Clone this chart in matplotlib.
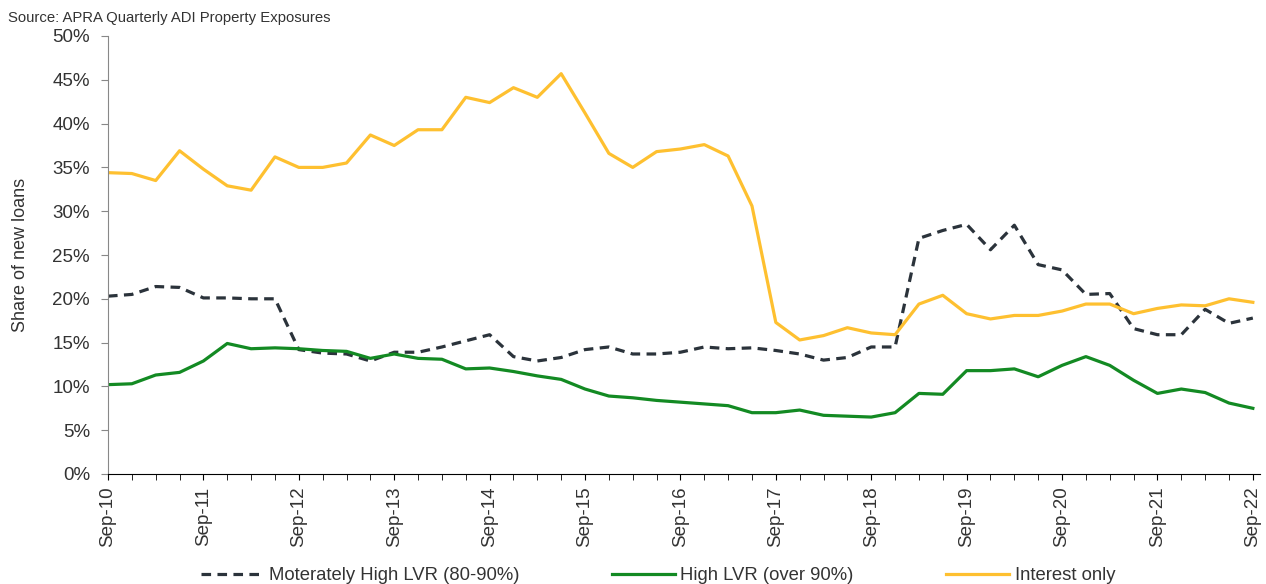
import matplotlib
matplotlib.use("Agg")
import matplotlib.pyplot as plt
from matplotlib.ticker import PercentFormatter

plt.rcParams['font.family'] = ['Liberation Sans', 'DejaVu Sans']

# quarterly, Sep-10 .. Sep-22
quarters = list(range(49))
year_labels = ['Sep-10', 'Sep-11', 'Sep-12', 'Sep-13', 'Sep-14', 'Sep-15', 'Sep-16',
               'Sep-17', 'Sep-18', 'Sep-19', 'Sep-20', 'Sep-21', 'Sep-22']

moderate_lvr = [20.3, 20.5, 21.4, 21.3, 20.1, 20.1, 20.0, 20.0, 14.2, 13.8,
                13.7, 12.9, 13.9, 13.9, 14.5, 15.2, 15.9, 13.4, 12.9, 13.3,
                14.2, 14.5, 13.7, 13.7, 13.9, 14.5, 14.3, 14.4, 14.1, 13.7,
                13.0, 13.3, 14.5, 14.5, 26.9, 27.8, 28.5, 25.6, 28.4, 23.9,
                23.3, 20.5, 20.6, 16.6, 15.9, 15.9, 18.8, 17.2, 17.8]
high_lvr = [10.2, 10.3, 11.3, 11.6, 12.9, 14.9, 14.3, 14.4, 14.3, 14.1,
            14.0, 13.2, 13.7, 13.2, 13.1, 12.0, 12.1, 11.7, 11.2, 10.8,
            9.7, 8.9, 8.7, 8.4, 8.2, 8.0, 7.8, 7.0, 7.0, 7.3,
            6.7, 6.6, 6.5, 7.0, 9.2, 9.1, 11.8, 11.8, 12.0, 11.1,
            12.4, 13.4, 12.4, 10.7, 9.2, 9.7, 9.3, 8.1, 7.5]
interest_only = [34.4, 34.3, 33.5, 36.9, 34.8, 32.9, 32.4, 36.2, 35.0, 35.0,
                 35.5, 38.7, 37.5, 39.3, 39.3, 43.0, 42.4, 44.1, 43.0, 45.7,
                 41.2, 36.6, 35.0, 36.8, 37.1, 37.6, 36.3, 30.6, 17.3, 15.3,
                 15.8, 16.7, 16.1, 15.9, 19.4, 20.4, 18.3, 17.7, 18.1, 18.1,
                 18.6, 19.4, 19.4, 18.3, 18.9, 19.3, 19.2, 20.0, 19.6]

W, H = 1266, 584
fig = plt.figure(figsize=(W / 100, H / 100), dpi=100)
ax = fig.add_axes([108 / W, 1 - 474 / H, (1260 - 108) / W, (474 - 36) / H])

ax.plot(quarters, moderate_lvr, color='#2b333b', lw=2.3, ls=(0, (3, 2)),
        label='Moterately High LVR (80-90%)')
ax.plot(quarters, high_lvr, color='#138a23', lw=2.3, label='High LVR (over 90%)')
ax.plot(quarters, interest_only, color='#fec030', lw=2.3, label='Interest only')

ax.set_xlim(0, 48.3)
ax.set_ylim(0, 50)
ax.set_yticks(range(0, 51, 5))
ax.yaxis.set_major_formatter(PercentFormatter(decimals=0))
ax.set_xticks(range(0, 49, 4))
ax.set_xticklabels(year_labels, rotation=90)
ax.set_xticks(quarters, minor=True)

for s in ['top', 'right']:
    ax.spines[s].set_visible(False)
ax.spines['left'].set_color('#888888')
ax.spines['bottom'].set_color('#000000')
ax.tick_params(axis='y', length=5, color='#888888', labelsize=13.5,
               labelcolor='#333333', pad=8)
ax.tick_params(axis='x', which='both', length=4, color='#000000', labelsize=13.5,
               labelcolor='#333333', pad=5)
ax.set_ylabel('Share of new loans', fontsize=13, color='#333333')
ax.yaxis.set_label_coords((29 - 108) / (1260 - 108), 0.5)

fig.text(8 / W, 1 - 18 / H, 'Source: APRA Quarterly ADI Property Exposures',
         fontsize=10.7, color='#333333', va='center')

fig.legend(loc='center', bbox_to_anchor=(658 / W, 1 - 576 / H), ncol=3, frameon=False,
           fontsize=13.3, handlelength=3.4, columnspacing=5.0, handletextpad=0.3,
           labelcolor='#333333')

fig.savefig('out.png', dpi=100)
